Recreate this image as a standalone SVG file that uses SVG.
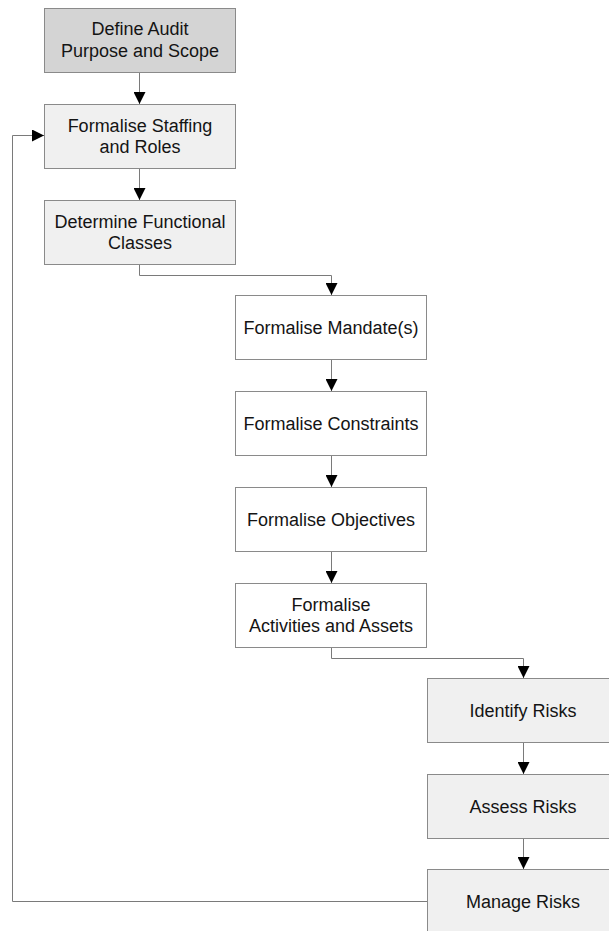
<svg xmlns="http://www.w3.org/2000/svg" width="609" height="931" viewBox="0 0 609 931">
  <style>
    .box { stroke: #8a8a8a; stroke-width: 1; }
    .lt { fill: #f0f0f0; }
    .wh { fill: #ffffff; }
    .dk { fill: #d4d4d4; }
    .lbl { font-family: "Liberation Sans", Arial, sans-serif; font-size: 18px; fill: #141414; text-anchor: middle; }
    .conn { fill: none; stroke: #7a7a7a; stroke-width: 1; }
  </style>
  <defs>
    <marker id="arr" viewBox="0 0 12 12" refX="12" refY="6" markerWidth="12" markerHeight="12" markerUnits="userSpaceOnUse" orient="auto">
      <path d="M0,0 L12,6 L0,12 Z" fill="#000"/>
    </marker>
  </defs>
  <rect width="609" height="931" fill="#fff"/>

  <g id="connectors">
    <path class="conn" d="M139.5,72 V104" marker-end="url(#arr)"/>
    <path class="conn" d="M139.5,168 V200" marker-end="url(#arr)"/>
    <path class="conn" d="M139.5,264 V275.5 H331.5 V295" marker-end="url(#arr)"/>
    <path class="conn" d="M331.5,359 V391" marker-end="url(#arr)"/>
    <path class="conn" d="M331.5,455 V487" marker-end="url(#arr)"/>
    <path class="conn" d="M331.5,551 V583" marker-end="url(#arr)"/>
    <path class="conn" d="M331.5,647 V658.5 H523.5 V678" marker-end="url(#arr)"/>
    <path class="conn" d="M523.5,742 V774" marker-end="url(#arr)"/>
    <path class="conn" d="M523.5,838 V869" marker-end="url(#arr)"/>
    <path class="conn" d="M427,901.5 H12.5 V135.5 H44" marker-end="url(#arr)"/>
  </g>

  <g id="define-audit">
    <rect class="box dk" x="44.5" y="8.5" width="191" height="64"/>
    <text class="lbl" x="140" y="35">Define Audit</text>
    <text class="lbl" x="140" y="57">Purpose and Scope</text>
  </g>
  <g id="staffing-roles">
    <rect class="box lt" x="44.5" y="104.5" width="191" height="64"/>
    <text class="lbl" x="140" y="132">Formalise Staffing</text>
    <text class="lbl" x="140" y="153">and Roles</text>
  </g>
  <g id="functional-classes">
    <rect class="box lt" x="44.5" y="200.5" width="191" height="64"/>
    <text class="lbl" x="140" y="228">Determine Functional</text>
    <text class="lbl" x="140" y="249">Classes</text>
  </g>
  <g id="mandates">
    <rect class="box wh" x="235.5" y="295.5" width="191" height="64"/>
    <text class="lbl" x="331" y="334">Formalise Mandate(s)</text>
  </g>
  <g id="constraints">
    <rect class="box wh" x="235.5" y="391.5" width="191" height="64"/>
    <text class="lbl" x="331" y="430">Formalise Constraints</text>
  </g>
  <g id="objectives">
    <rect class="box wh" x="235.5" y="487.5" width="191" height="64"/>
    <text class="lbl" x="331" y="526">Formalise Objectives</text>
  </g>
  <g id="activities-assets">
    <rect class="box wh" x="235.5" y="583.5" width="191" height="64"/>
    <text class="lbl" x="331" y="611">Formalise</text>
    <text class="lbl" x="331" y="632">Activities and Assets</text>
  </g>
  <g id="identify-risks">
    <rect class="box lt" x="427.5" y="678.5" width="191" height="64"/>
    <text class="lbl" x="523" y="717">Identify Risks</text>
  </g>
  <g id="assess-risks">
    <rect class="box lt" x="427.5" y="774.5" width="191" height="64"/>
    <text class="lbl" x="523" y="813">Assess Risks</text>
  </g>
  <g id="manage-risks">
    <rect class="box lt" x="427.5" y="869.5" width="191" height="64"/>
    <text class="lbl" x="523" y="908">Manage Risks</text>
  </g>
</svg>
